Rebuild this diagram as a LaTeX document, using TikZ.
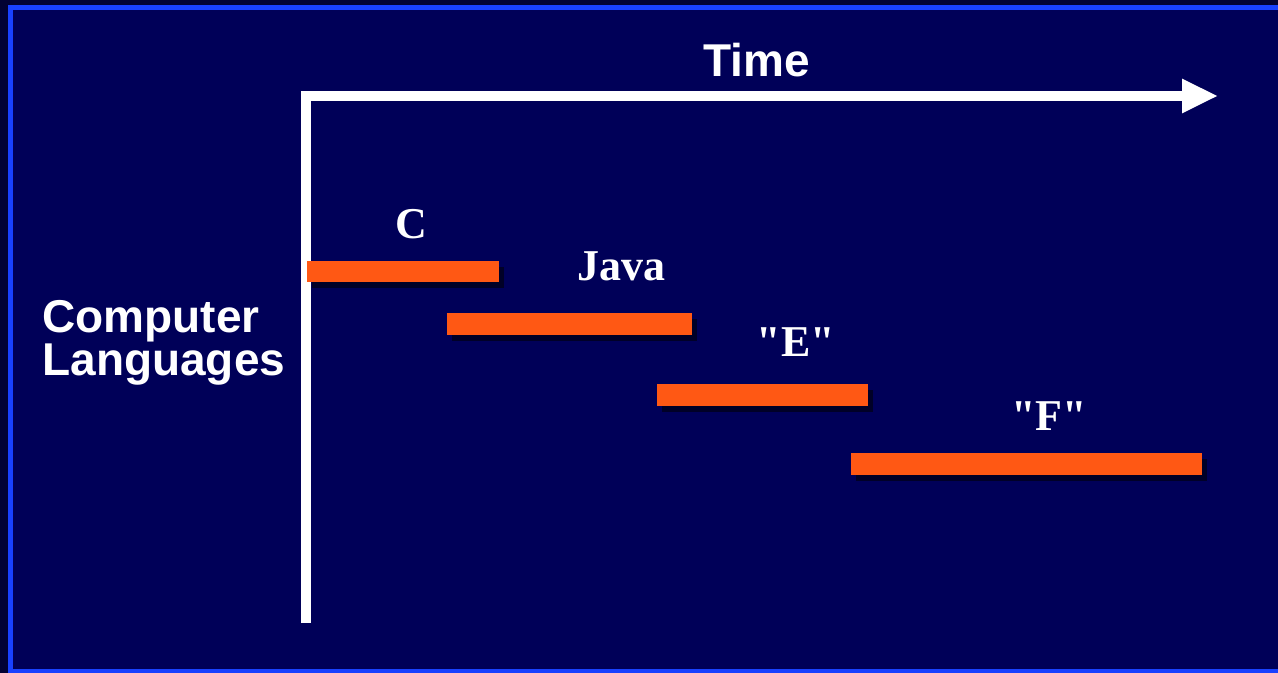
\documentclass[tikz,border=0pt]{standalone}
\usepackage{fontspec}
\setmainfont{Liberation Serif}
\newfontfamily\headfont{Liberation Sans}
\usetikzlibrary{arrows.meta,shadows}

\definecolor{outerblue}{RGB}{2,2,52}
\definecolor{slidenavy}{RGB}{0,0,88}
\definecolor{frameblue}{RGB}{25,65,255}
\definecolor{barorange}{RGB}{255,88,20}

\tikzset{
  axis/.style={white, line width=5pt, line join=miter},
  langbar/.style={fill=barorange, drop shadow={shadow xshift=2.5pt, shadow yshift=-3pt, fill=black, opacity=.55}},
  headlabel/.style={white, inner sep=0pt, font=\headfont\bfseries\fontsize{23}{26}\selectfont},
  langlabel/.style={white, inner sep=0pt, font=\bfseries\fontsize{22}{25}\selectfont},
}

\begin{document}
\begin{tikzpicture}[x=0.5pt, y=-0.5pt]
  \useasboundingbox (0,0) rectangle (1278,673);
  % slide background and frame
  \fill[outerblue] (0,0) rectangle (1278,673);
  \fill[slidenavy] (10,8) rectangle (1278,671);
  \draw[frameblue, line width=2.5pt] (1278,671) -- (10,671) -- (10,8) -- (1278,8);

  % axes
  \coordinate (yfoot) at (306,623);
  \coordinate (origin) at (306,96);
  \coordinate (ttip) at (1218,96);
  \draw[axis, -{Triangle[length=18pt, width=16pt]}] (yfoot) -- (origin) -- (ttip);

  \node[headlabel, anchor=base west] (time) at (703,77) {Time};
  \node[headlabel, anchor=base west] (computer) at (42,333) {Computer};
  \node[headlabel, anchor=base west] (languages) at (42,375) {Languages};

  % language bars
  \fill[langbar] (307,261) rectangle (499,282);
  \fill[langbar] (447,313) rectangle (692,335);
  \fill[langbar] (657,384) rectangle (868,406);
  \fill[langbar] (851,453) rectangle (1202,475);

  \node[langlabel, anchor=base] (c) at (411,239) {C};
  \node[langlabel, anchor=base] (java) at (621,281) {Java};
  \node[langlabel, anchor=base] (e) at (796,357) {\textquotedbl E\textquotedbl};
  \node[langlabel, anchor=base] (f) at (1049,430) {\textquotedbl F\textquotedbl};

\end{tikzpicture}
\end{document}
